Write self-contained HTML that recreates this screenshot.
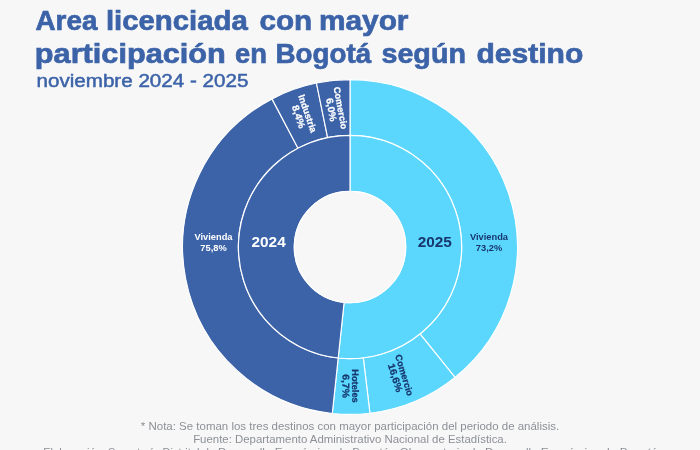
<!DOCTYPE html>
<html lang="es"><head><meta charset="utf-8"><title>Area licenciada</title>
<style>
html,body{margin:0;padding:0;}
body{width:700px;height:450px;overflow:hidden;background:#F7F7F7;position:relative;font-family:"Liberation Sans",sans-serif;}
svg{position:absolute;left:0;top:0;}
svg text{font-family:"Liberation Sans",sans-serif;}
</style></head><body>
<svg width="700" height="450" viewBox="0 0 700 450">
<path d="M350.00,79.60 A167.4,167.4 0 0 1 455.02,377.36 L420.01,333.91 A111.6,111.6 0 0 0 350.00,135.40 Z" fill="#5BD7FE" stroke="#fff" stroke-width="1.15" stroke-linejoin="round"/>
<path d="M455.02,377.36 A167.4,167.4 0 0 1 369.95,413.21 L363.30,357.80 A111.6,111.6 0 0 0 420.01,333.91 Z" fill="#5BD7FE" stroke="#fff" stroke-width="1.15" stroke-linejoin="round"/>
<path d="M369.95,413.21 A167.4,167.4 0 0 1 332.29,413.46 L338.19,357.97 A111.6,111.6 0 0 0 363.30,357.80 Z" fill="#5BD7FE" stroke="#fff" stroke-width="1.15" stroke-linejoin="round"/>
<path d="M350.00,135.40 A111.6,111.6 0 1 1 338.19,357.97 L344.11,302.39 A55.7,55.7 0 1 0 350.00,191.30 Z" fill="#5BD7FE" stroke="#fff" stroke-width="1.15" stroke-linejoin="round"/>
<path d="M332.29,413.46 A167.4,167.4 0 0 1 272.01,98.88 L298.01,148.25 A111.6,111.6 0 0 0 338.19,357.97 Z" fill="#3C63A8" stroke="#fff" stroke-width="1.15" stroke-linejoin="round"/>
<path d="M272.01,98.88 A167.4,167.4 0 0 1 316.43,83.00 L327.62,137.67 A111.6,111.6 0 0 0 298.01,148.25 Z" fill="#3C63A8" stroke="#fff" stroke-width="1.15" stroke-linejoin="round"/>
<path d="M316.43,83.00 A167.4,167.4 0 0 1 350.00,79.60 L350.00,135.40 A111.6,111.6 0 0 0 327.62,137.67 Z" fill="#3C63A8" stroke="#fff" stroke-width="1.15" stroke-linejoin="round"/>
<path d="M338.19,357.97 A111.6,111.6 0 0 1 350.00,135.40 L350.00,191.30 A55.7,55.7 0 0 0 344.11,302.39 Z" fill="#3C63A8" stroke="#fff" stroke-width="1.15" stroke-linejoin="round"/>
<circle cx="350.0" cy="247.0" r="55.7" fill="#F7F7F7" stroke="#fff" stroke-width="1.15"/>
<g transform="translate(335.90,108.80) rotate(79.50)" fill="#fff" stroke="#fff" stroke-width="0.25" font-weight="700" text-anchor="middle"><text x="0" y="-1.61" font-size="9.3">Comercio</text><text transform="translate(0,7.93) scale(1.06,1)" font-size="9.8">6,0%</text></g>
<g transform="translate(303.00,115.20) rotate(71.00)" fill="#fff" stroke="#fff" stroke-width="0.25" font-weight="700" text-anchor="middle"><text x="0" y="-1.61" font-size="9.3">Industria</text><text transform="translate(0,7.93) scale(1.06,1)" font-size="9.8">8,4%</text></g>
<g transform="translate(350.50,386.00) rotate(89.60)" fill="#17376E" stroke="#17376E" stroke-width="0.25" font-weight="700" text-anchor="middle"><text x="0" y="-1.61" font-size="9.3">Hoteles</text><text transform="translate(0,7.93) scale(1.06,1)" font-size="9.8">6,7%</text></g>
<g transform="translate(399.70,376.50) rotate(73.00)" fill="#17376E" stroke="#17376E" stroke-width="0.25" font-weight="700" text-anchor="middle"><text x="0" y="-1.61" font-size="9.3">Comercio</text><text transform="translate(0,7.93) scale(1.06,1)" font-size="9.8">16,6%</text></g>
<g font-weight="700" font-size="9.3" text-anchor="middle" fill="#fff">
<text x="213.5" y="240">Vivienda</text><text x="213.5" y="251">75,8%</text>
</g>
<g font-weight="700" font-size="9.3" text-anchor="middle" fill="#17376E">
<text x="489" y="240">Vivienda</text><text x="489" y="251">73,2%</text>
</g>
<text transform="translate(268.6,247.3) scale(1.04,1)" font-weight="700" font-size="14.8" text-anchor="middle" fill="#fff">2024</text>
<text transform="translate(434.8,247.3) scale(1.04,1)" font-weight="700" font-size="14.8" text-anchor="middle" fill="#17376E">2025</text>
<text transform="translate(35.50,30.3) scale(0.9766,1)" font-size="28.5" font-weight="700" fill="#3C63A8" stroke="#3C63A8" stroke-width="0.7">Area</text>
<text transform="translate(105.94,30.3) scale(1.0294,1)" font-size="28.5" font-weight="700" fill="#3C63A8" stroke="#3C63A8" stroke-width="0.7">licenciada</text>
<text transform="translate(259.46,30.3) scale(1.0417,1)" font-size="28.5" font-weight="700" fill="#3C63A8" stroke="#3C63A8" stroke-width="0.7">con</text>
<text transform="translate(318.90,30.3) scale(1.0476,1)" font-size="28.5" font-weight="700" fill="#3C63A8" stroke="#3C63A8" stroke-width="0.7">mayor</text>
<text transform="translate(34.84,62.8) scale(1.0776,1)" font-size="28.5" font-weight="700" fill="#3C63A8" stroke="#3C63A8" stroke-width="0.7">participación</text>
<text transform="translate(235.04,62.8) scale(0.9597,1)" font-size="28.5" font-weight="700" fill="#3C63A8" stroke="#3C63A8" stroke-width="0.7">en</text>
<text transform="translate(275.55,62.8) scale(0.9742,1)" font-size="28.5" font-weight="700" fill="#3C63A8" stroke="#3C63A8" stroke-width="0.7">Bogotá</text>
<text transform="translate(381.49,62.8) scale(1.0061,1)" font-size="28.5" font-weight="700" fill="#3C63A8" stroke="#3C63A8" stroke-width="0.7">según</text>
<text transform="translate(476.44,62.8) scale(1.0550,1)" font-size="28.5" font-weight="700" fill="#3C63A8" stroke="#3C63A8" stroke-width="0.7">destino</text>
<text id="t3" transform="translate(36.5,86.8) scale(1.0849,1)" font-size="19" font-weight="400" fill="#3C63A8" text-anchor="start" letter-spacing="0" stroke="#3C63A8" stroke-width="0.5">noviembre 2024 - 2025</text>
<text id="f1" transform="translate(350,430) scale(1.0259,1)" font-size="11.2" font-weight="400" fill="#8C9096" text-anchor="middle" letter-spacing="0">* Nota: Se toman los tres destinos con mayor participación del periodo de análisis.</text>
<text id="f2" transform="translate(350,443.4) scale(1.0189,1)" font-size="11.2" font-weight="400" fill="#8C9096" text-anchor="middle" letter-spacing="0">Fuente: Departamento Administrativo Nacional de Estadística.</text>
<text transform="translate(43.20,455.8) scale(0.9933,1)" font-size="11.2" font-weight="400" fill="#8C9096">Elaboración: Secretaría Distrital de</text>
<text transform="translate(218.00,455.8) scale(1.0473,1)" font-size="11.2" font-weight="400" fill="#8C9096">Desarrollo Económico de Bogotá -</text>
<text transform="translate(399.70,455.8) scale(1.0307,1)" font-size="11.2" font-weight="400" fill="#8C9096">Observatorio de Desarrollo</text>
<text transform="translate(540.70,455.8) scale(1.0670,1)" font-size="11.2" font-weight="400" fill="#8C9096">Económico de Bogotá</text>
</svg>
</body></html>
